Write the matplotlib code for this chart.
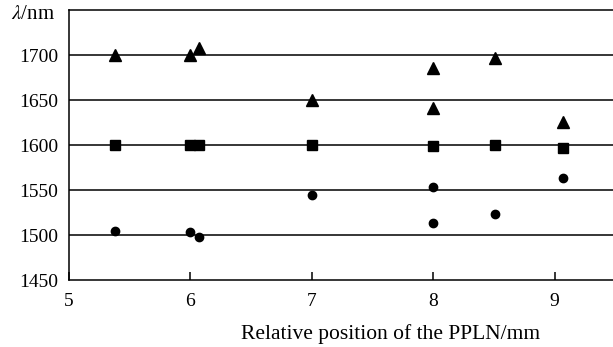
import numpy as np
import matplotlib.pyplot as plt

plt.rcParams['font.family'] = 'Liberation Serif'
plt.rcParams['mathtext.fontset'] = 'stix'

# relative position of the PPLN (mm)
pos = [5.38, 6.0, 6.07, 7.0, 8.0, 8.0, 8.51, 9.07]
pos_sq = [5.38, 6.0, 6.07, 7.0, 8.0, 8.51, 9.07]

# wavelengths (nm)
idler = [1700, 1700, 1708, 1650, 1686, 1641, 1697, 1626]
pump = [1600, 1600, 1600, 1600, 1599, 1600, 1597]
signal = [1504, 1503, 1498, 1544, 1553, 1513, 1523, 1563]

yticks = [1450, 1500, 1550, 1600, 1650, 1700]
xticks = [5, 6, 7, 8, 9]

fig = plt.figure(figsize=(6.13, 3.47), dpi=100)
ax = fig.add_axes([0.1126, 0.193, 0.8874, 0.778])

for y in [1500, 1550, 1600, 1650, 1700]:
    ax.axhline(y, color='black', lw=1.1, zorder=1)

ax.plot(pos, idler, '^', color='black', ms=8, zorder=3)
ax.plot(pos_sq, pump, 's', color='black', ms=6.5, zorder=3)
ax.plot(pos, signal, 'o', color='black', ms=6, zorder=3)

ax.set_xlim(5, 9.48)
ax.set_ylim(1450, 1750)
ax.set_xticks(xticks)
ax.set_yticks(yticks)
ax.tick_params(axis='x', direction='in', length=6, width=1.1, labelsize=14, pad=9)
ax.tick_params(axis='y', length=0, labelsize=14, pad=8)
ax.spines['right'].set_visible(False)
for s in ['left', 'bottom', 'top']:
    ax.spines[s].set_linewidth(1.1)

ax.set_xlabel('Relative position of the PPLN/mm', fontsize=15.5)
ax.xaxis.set_label_coords(0.592, -0.165)
ax.text(-0.026, 0.985, r'$\lambda$/nm', transform=ax.transAxes, fontsize=15,
        ha='right', va='center')

fig.savefig('out.png', dpi=100)
